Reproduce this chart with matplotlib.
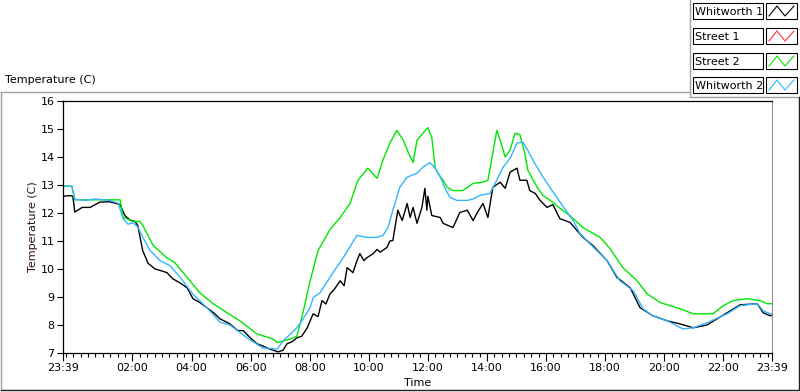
import matplotlib.pyplot as plt
import numpy as np

# minutes after 23:39, temperature (C)
w1_t = [0, 14, 20, 24, 30, 39, 55, 75, 95, 116, 126, 136, 146, 152, 158, 162, 173, 187, 197, 211,
        223, 238, 252, 264, 278, 292, 305, 319, 339, 355, 366, 380, 394, 406, 420, 437, 447, 455,
        465, 475, 485, 496, 508, 518, 526, 534, 542, 552, 563, 571, 577, 589, 597, 603, 611, 617,
        630, 638, 644, 658, 664, 670, 680, 689, 699, 705, 711, 719, 729, 735, 739, 741, 749, 766,
        772, 792, 806, 821, 833, 841, 853, 863, 873, 888, 898, 908, 922, 928, 942, 948, 959, 969,
        983, 995, 1009, 1030, 1056, 1076, 1105, 1125, 1152, 1172, 1198, 1227, 1253, 1280, 1308,
        1349, 1375, 1410, 1422, 1436, 1440]
w1_v = [12.6, 12.62, 12.6, 12.03, 12.1, 12.2, 12.2, 12.39, 12.4, 12.3, 11.9, 11.75, 11.7, 11.55,
        11.0, 10.65, 10.2, 10.0, 9.95, 9.87, 9.65, 9.5, 9.33, 8.94, 8.8, 8.62, 8.45, 8.22, 8.04,
        7.8, 7.8, 7.55, 7.33, 7.25, 7.14, 7.04, 7.1, 7.33, 7.4, 7.54, 7.6, 7.9, 8.4, 8.3, 8.87,
        8.75, 9.1, 9.3, 9.58, 9.4, 10.05, 9.87, 10.3, 10.55, 10.3, 10.4, 10.55, 10.7, 10.6, 10.77,
        11.0, 11.02, 12.1, 11.73, 12.34, 11.84, 12.2, 11.63, 12.2, 12.88, 12.1, 12.6, 11.91,
        11.84, 11.63, 11.48, 12.02, 12.1, 11.73, 12.0, 12.34, 11.84, 12.92, 13.1, 12.88, 13.46,
        13.6, 13.17, 13.17, 12.8, 12.7, 12.45, 12.2, 12.3, 11.8, 11.66, 11.13, 10.84, 10.3, 9.7,
        9.33, 8.62, 8.33, 8.15, 8.04, 7.9, 8.0, 8.44, 8.72, 8.76, 8.44, 8.33, 8.35]

s1_t = []
s1_v = []

s2_t = [0, 18, 24, 116, 122, 142, 156, 162, 183, 211, 227, 252, 278, 305, 333, 359, 394, 427,
        435, 461, 475, 485, 502, 518, 526, 542, 563, 583, 599, 619, 638, 650, 664, 678, 691, 701,
        711, 719, 731, 741, 749, 756, 762, 772, 780, 792, 812, 833, 853, 863, 873, 881, 888, 898,
        908, 918, 928, 938, 944, 963, 975, 995, 1009, 1030, 1056, 1091, 1111, 1137, 1166, 1186,
        1213, 1253, 1280, 1320, 1341, 1361, 1389, 1416, 1430, 1440]
s2_v = [12.96, 12.96, 12.47, 12.47, 11.85, 11.7, 11.7, 11.56, 10.84, 10.4, 10.23, 9.7, 9.15, 8.76,
        8.44, 8.15, 7.68, 7.5, 7.37, 7.5, 7.6, 8.26, 9.58, 10.66, 10.9, 11.4, 11.84, 12.34, 13.17,
        13.6, 13.24, 13.9, 14.5, 14.95, 14.6, 14.17, 13.8, 14.6, 14.85, 15.05, 14.7, 13.6, 13.4,
        13.17, 12.92, 12.8, 12.8, 13.06, 13.1, 13.17, 14.14, 14.95, 14.6, 14.0, 14.24, 14.85, 14.8,
        14.13, 13.53, 12.92, 12.63, 12.38, 12.17, 11.9, 11.48, 11.13, 10.73, 10.05, 9.58, 9.12,
        8.8, 8.58, 8.4, 8.4, 8.69, 8.87, 8.94, 8.87, 8.76, 8.76]

w2_t = [0, 18, 24, 45, 65, 95, 112, 122, 132, 142, 152, 162, 177, 197, 217, 238, 264, 292, 319,
        339, 374, 406, 435, 447, 475, 487, 502, 508, 522, 542, 569, 597, 617, 638, 650, 660, 670,
        684, 699, 719, 731, 745, 756, 766, 776, 786, 800, 821, 833, 847, 867, 881, 894, 908, 922,
        934, 944, 958, 975, 993, 1009, 1036, 1050, 1070, 1105, 1131, 1158, 1178, 1198, 1227, 1259,
        1280, 1308, 1349, 1375, 1410, 1422, 1436, 1440]
w2_v = [12.96, 12.96, 12.49, 12.45, 12.5, 12.45, 12.35, 11.8, 11.6, 11.65, 11.5, 11.13, 10.66,
        10.3, 10.12, 9.7, 9.1, 8.62, 8.1, 8.0, 7.54, 7.18, 7.14, 7.43, 7.9, 8.2, 8.62, 8.98, 9.15,
        9.7, 10.4, 11.2, 11.13, 11.13, 11.2, 11.48, 12.1, 12.92, 13.28, 13.42, 13.64, 13.8, 13.6,
        13.3, 12.88, 12.56, 12.45, 12.45, 12.5, 12.63, 12.7, 13.17, 13.64, 13.95, 14.5, 14.53,
        14.24, 13.78, 13.28, 12.81, 12.4, 11.73, 11.27, 10.9, 10.3, 9.58, 9.23, 8.58, 8.33, 8.15,
        7.86, 7.9, 8.08, 8.4, 8.69, 8.76, 8.51, 8.4, 8.4]

names = ['Whitworth 1', 'Street 1', 'Street 2', 'Whitworth 2']
colors = ['#000000', '#ff3333', '#00e600', '#33b5ff']
tick_labels = ['23:39', '02:00', '04:00', '06:00', '08:00', '10:00', '12:00',
               '14:00', '16:00', '18:00', '20:00', '22:00', '23:39']

plt.rcParams['font.family'] = ['DejaVu Sans']
fig = plt.figure(figsize=(8, 3.92), dpi=100)

# background frame in pixel coords
bg = fig.add_axes([0, 0, 1, 1])
bg.set_xlim(0, 800)
bg.set_ylim(392, 0)
bg.axis('off')
bg.plot([1, 1], [92, 390], color='#a0a0a0', lw=1)
bg.plot([1, 690], [92, 92], color='#a0a0a0', lw=1)
bg.plot([690, 690, 800], [0, 97, 97], color='#a0a0a0', lw=1)
bg.plot([1, 799, 799], [390, 390, 97], color='#202020', lw=1)
bg.text(5, 80, 'Temperature (C)', fontsize=8, va='center', ha='left')

# legend
rows = [3, 28, 53, 77]
for name, c, y0 in zip(names, colors, rows):
    bg.add_patch(plt.Rectangle((693, y0), 70, 16, fill=True, fc='white', ec='black', lw=0.8))
    bg.text(695, y0 + 8.5, name, fontsize=8, va='center', ha='left')
    bg.add_patch(plt.Rectangle((766, y0), 31, 16, fill=True, fc='white', ec='black', lw=0.8))
    bg.plot([769, 777, 785, 794], [y0 + 13, y0 + 3, y0 + 13, y0 + 3], color=c, lw=0.8)

ax = fig.add_axes([63 / 800, 39 / 392, 709 / 800, 252 / 392])
ax.plot(w1_t, w1_v, color=colors[0], lw=1.0)
ax.plot(s1_t, s1_v, color=colors[1], lw=1.0)
ax.plot(s2_t, s2_v, color=colors[2], lw=1.0)
ax.plot(w2_t, w2_v, color=colors[3], lw=1.0)

ax.set_xlim(0, 1440)
ax.set_ylim(7, 16)
ax.set_yticks(np.arange(7, 17, 1))
ax.tick_params(axis='y', length=4, width=0.8, labelsize=8, pad=2)
major = [0] + [141 + 120 * i for i in range(11)] + [1440]
ax.set_xticks(major)
ax.set_xticklabels(tick_labels)
ax.set_xticks([6 + 15 * i for i in range(96)], minor=True)
ax.tick_params(axis='x', which='major', length=6, width=0.8, labelsize=8, pad=1)
ax.tick_params(axis='x', which='minor', length=3, width=0.8)
for s in ['left', 'top', 'bottom']:
    ax.spines[s].set_color('black')
    ax.spines[s].set_linewidth(0.9)
ax.spines['right'].set_color('#909090')
ax.set_ylabel('Temperature (C)', fontsize=8, color='#301010', labelpad=2)
ax.set_xlabel('Time', fontsize=8, labelpad=4)

fig.savefig('out.png', dpi=100)
